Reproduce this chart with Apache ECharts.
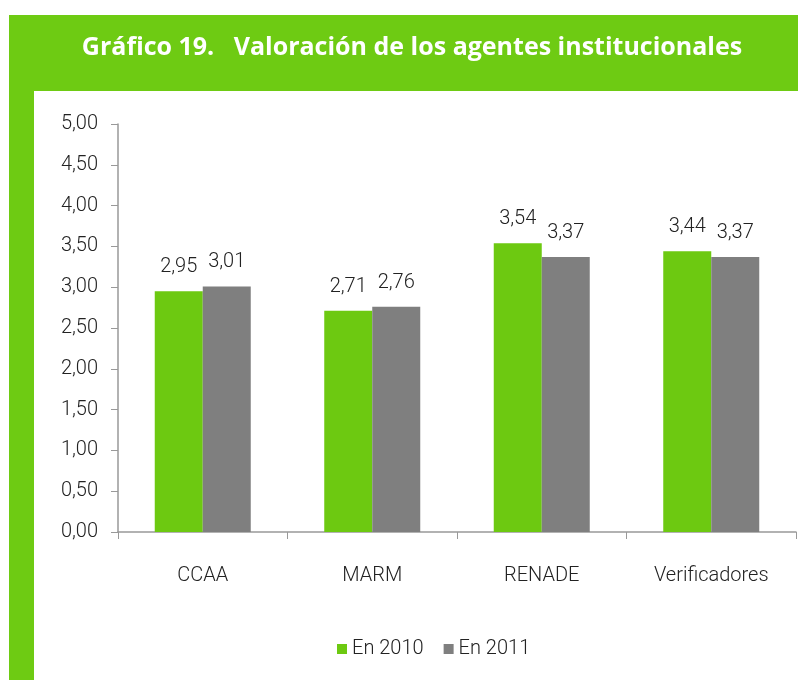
<!DOCTYPE html>
<html>
<head>
<meta charset="utf-8">
<script src="https://cdn.jsdelivr.net/npm/echarts@6/dist/echarts.min.js"></script>
<style>
html,body{margin:0;padding:0;background:#fff;}
#c{width:798px;height:680px;}
</style>
</head>
<body>
<div id="c"></div>
<script>
const categories = ['CCAA', 'MARM', 'RENADE', 'Verificadores'];
const seriesNames = ['En 2010', 'En 2011'];
const values2010 = [2.95, 2.71, 3.54, 3.44];
const values2011 = [3.01, 2.76, 3.37, 3.37];
const titleText = 'Gráfico 19.   Valoración de los agentes institucionales';

const GREEN = '#6DC911';
const GRAY = '#7F7F7F';
const FONT = 'Roboto, "Noto Sans", sans-serif';
const FS = 20;
const fmt = v => Number(v).toFixed(2).replace('.', ',');

const chart = echarts.init(document.getElementById('c'), null, {renderer: 'canvas'});
const labelStyle = {
  show: true, position: 'top', distance: 14,
  fontFamily: FONT, fontSize: FS, fontWeight: 300, color: '#222',
  formatter: p => fmt(p.value)
};
chart.setOption({
  animation: false,
  backgroundColor: '#fff',
  graphic: [
    {type: 'rect', z: -10, shape: {x: 9, y: 15, width: 789, height: 665}, style: {fill: '#6ECB13'}, silent: true},
    {type: 'rect', z: -9, shape: {x: 34, y: 91, width: 764, height: 589}, style: {fill: '#fff'}, silent: true},
    {type: 'text', z: 10, style: {text: titleText, x: 412, y: 48, textAlign: 'center', textVerticalAlign: 'middle',
      fill: '#fff', fontFamily: '"Open Sans", Lato, sans-serif', fontWeight: 'bold', fontSize: 25}}
  ],
  grid: {left: 118, right: 2, top: 124, bottom: 148},
  legend: {
    data: seriesNames, left: 332, top: 634, icon: 'rect', itemWidth: 10, itemHeight: 10, itemGap: 20,
    textStyle: {fontFamily: FONT, fontSize: FS, fontWeight: 300, color: '#222'}
  },
  xAxis: {
    type: 'category', data: categories,
    axisLine: {lineStyle: {color: '#999', width: 1.5}},
    axisTick: {show: true, length: 7, alignWithLabel: false, lineStyle: {color: '#999'}},
    axisLabel: {margin: 34, fontFamily: FONT, fontSize: FS, fontWeight: 300, color: '#222'}
  },
  yAxis: {
    type: 'value', min: 0, max: 5, interval: 0.5,
    axisLine: {show: true, lineStyle: {color: '#999', width: 1.5}},
    axisTick: {show: true, length: 7, lineStyle: {color: '#999'}},
    splitLine: {show: false},
    axisLabel: {margin: 20, fontFamily: FONT, fontSize: FS, fontWeight: 300, color: '#222', formatter: v => fmt(v)}
  },
  series: [
    {name: seriesNames[0], type: 'bar', data: values2010, barWidth: 48, barGap: '0%', itemStyle: {color: GREEN}, label: labelStyle},
    {name: seriesNames[1], type: 'bar', data: values2011, barWidth: 48, barGap: '0%', itemStyle: {color: GRAY}, label: labelStyle}
  ]
});
</script>
</body>
</html>
